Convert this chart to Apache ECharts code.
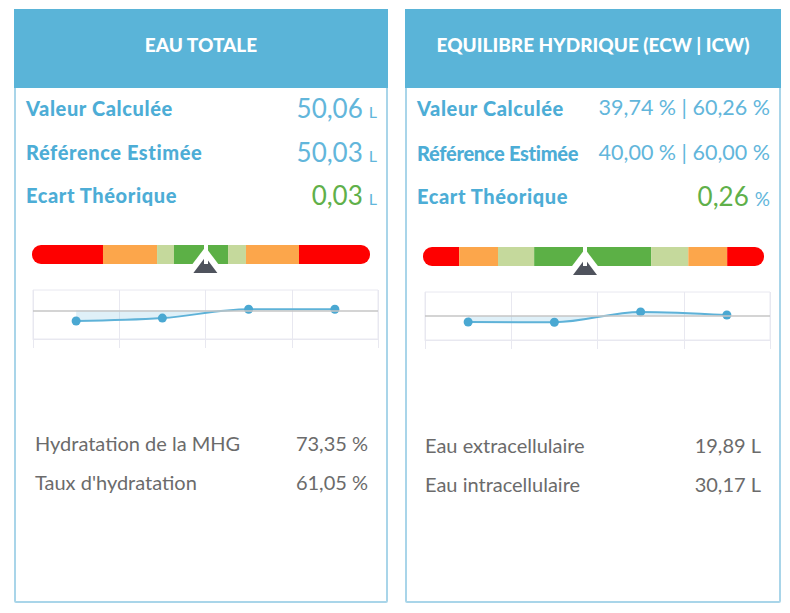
<!DOCTYPE html>
<html>
<head>
<meta charset="utf-8">
<script src="https://cdn.jsdelivr.net/npm/echarts@6/dist/echarts.min.js"></script>
<style>
  body { margin: 0; background: #fff; font-family: Lato, 'Open Sans', sans-serif; }
  .panel { position: absolute; box-sizing: border-box; border: 2px solid #a9d5e9; border-radius: 2px; }
  .head { position: absolute; background: #5ab4d8; color: #fff; font-weight: 900; font-size: 19px; text-align: center; }
  .row { position: absolute; height: 30px; display: flex; justify-content: space-between; align-items: center; white-space: nowrap; }
  .lab { color: #4dadd6; font-weight: 900; font-size: 20px; letter-spacing: 0.6px; }
  .val { color: #62b6db; line-height: 1; }
  .num { font-size: 26px; }
  .unit { font-size: 16px; margin-left: 6px; }
  .green { color: #5fb04a; }
  .info { color: #6b6b6b; font-size: 20px; }
  .chart { position: absolute; }
</style>
</head>
<body>
<div class="panel" style="left:14px;top:9px;width:374px;height:594px"></div>
<div class="head" style="left:14px;top:9px;width:374px;height:79px;line-height:72px">EAU TOTALE</div>
<div class="row" style="left:26px;top:93px;width:351px"><span class="lab">Valeur Calculée</span><span class="val"><span class="num">50,06</span><span class="unit">L</span></span></div>
<div class="row" style="left:26px;top:137px;width:351px"><span class="lab">Référence Estimée</span><span class="val"><span class="num">50,03</span><span class="unit">L</span></span></div>
<div class="row" style="left:26px;top:180px;width:351px"><span class="lab">Ecart Théorique</span><span class="val"><span class="num green">0,03</span><span class="unit">L</span></span></div>
<div id="chartTotal" class="chart" style="left:14px;top:235px;width:374px;height:125px"></div>
<div class="row info" style="left:35px;top:428px;width:333px"><span>Hydratation de la MHG</span><span>73,35 %</span></div>
<div class="row info" style="left:35px;top:467px;width:333px"><span>Taux d'hydratation</span><span>61,05 %</span></div>

<div class="panel" style="left:405px;top:9px;width:376px;height:594px"></div>
<div class="head" style="left:405px;top:9px;width:376px;height:79px;line-height:72px">EQUILIBRE HYDRIQUE (ECW | ICW)</div>
<div class="row" style="left:417px;top:93px;width:353px"><span class="lab">Valeur Calculée</span><span class="val" style="font-size:21.5px">39,74 % | 60,26 %</span></div>
<div class="row" style="left:417px;top:138px;width:353px"><span class="lab" style="letter-spacing:-0.3px">Référence Estimée</span><span class="val" style="font-size:21.5px">40,00 % | 60,00 %</span></div>
<div class="row" style="left:417px;top:181px;width:353px"><span class="lab">Ecart Théorique</span><span class="val"><span class="num green">0,26</span><span class="unit" style="font-size:19px">%</span></span></div>
<div id="chartBalance" class="chart" style="left:405px;top:235px;width:376px;height:125px"></div>
<div class="row info" style="left:425px;top:430px;width:336px"><span>Eau extracellulaire</span><span>19,89 L</span></div>
<div class="row info" style="left:425px;top:469px;width:336px"><span>Eau intracellulaire</span><span>30,17 L</span></div>

<script>
// gauge zones, left to right, in % of bar width
const zoneColors = ['#fe0000', '#fca64b', '#c5d99c', '#5cb046', '#c5d99c', '#fca64b', '#fe0000']
const totalZones = [21.0, 16.0, 5.0, 16.0, 5.3, 15.7, 21.0]
const totalPointer = 51.3
const balanceZones = [10.6, 11.4, 10.6, 34.3, 10.9, 11.4, 10.8]
const balancePointer = 47.5

// history of the last measures
const historyLabels = ['1', '2', '3', '4']
const totalHistory = [49.70, 49.79, 50.06, 50.06]
const totalRef = 50.03
const balanceHistory = [59.75, 59.74, 60.17, 60.04]
const balanceRef = 60.00

const gridColor = '#e8e8f0'

function getPanelOption(zones, pointer, history, ref, yMin, yMax, box) {
  const bars = zones.map((w, i) => ({
    type: 'bar',
    stack: 'zones',
    xAxisIndex: 0,
    yAxisIndex: 0,
    data: [w],
    barWidth: '100%',
    silent: true,
    itemStyle: {
      color: zoneColors[i],
      borderRadius: i === 0 ? [9, 0, 0, 9] : (i === zones.length - 1 ? [0, 9, 9, 0] : 0)
    }
  }))

  return {
    animation: false,
    grid: [
      { left: box.gauge[0], top: box.gauge[1], width: box.gauge[2], height: box.gauge[3] },
      { left: box.line[0], top: box.line[1], width: box.line[2], height: box.line[3],
        show: true, borderColor: gridColor, borderWidth: 1 }
    ],
    xAxis: [
      { gridIndex: 0, type: 'value', min: 0, max: 100, show: false },
      {
        gridIndex: 1,
        type: 'category',
        data: historyLabels,
        boundaryGap: true,
        axisLine: { show: true, lineStyle: { color: gridColor } },
        axisTick: { show: true, length: 9, lineStyle: { color: gridColor } },
        axisLabel: { show: false },
        splitLine: { show: true, lineStyle: { color: gridColor } }
      }
    ],
    yAxis: [
      { gridIndex: 0, type: 'category', data: ['zone'], show: false },
      {
        gridIndex: 1,
        type: 'value',
        min: yMin,
        max: yMax,
        axisLine: { show: false },
        axisTick: { show: false },
        axisLabel: { show: false },
        splitLine: { show: false }
      }
    ],
    series: [
      ...bars,
      {
        type: 'scatter',
        xAxisIndex: 0,
        yAxisIndex: 0,
        clip: false,
        silent: true,
        data: [[pointer, 0]],
        symbol: 'triangle',
        symbolSize: [44, 29],
        symbolOffset: [0, 7],
        itemStyle: { color: '#ffffff', opacity: 1 },
        markLine: {
          silent: true,
          symbol: ['none', 'none'],
          label: { show: false },
          lineStyle: { color: '#ffffff', width: 4, type: 'solid' },
          data: [{ xAxis: pointer }]
        }
      },
      {
        type: 'scatter',
        xAxisIndex: 0,
        yAxisIndex: 0,
        clip: false,
        silent: true,
        data: [[pointer, 0]],
        symbol: 'triangle',
        symbolSize: [24, 16],
        symbolOffset: [0, 10.5],
        itemStyle: { color: '#4f535d', opacity: 1 }
      },
      {
        type: 'line',
        xAxisIndex: 1,
        yAxisIndex: 1,
        data: history,
        smooth: 0.35,
        symbol: 'circle',
        symbolSize: 9,
        lineStyle: { width: 2, color: '#5eb2d8' },
        itemStyle: { color: '#4aa8d2' },
        areaStyle: { origin: ref, color: 'rgba(125,195,228,0.35)' },
        markLine: {
          silent: true,
          symbol: ['none', 'none'],
          label: { show: false },
          lineStyle: { color: '#c6c6c6', width: 1.5, type: 'solid' },
          data: [{ yAxis: ref }]
        }
      }
    ]
  }
}

const totalChart = echarts.init(document.getElementById('chartTotal'))
totalChart.setOption(getPanelOption(totalZones, totalPointer, totalHistory, totalRef, 49.15, 50.65,
  { gauge: [18, 10, 338, 19], line: [19, 55, 345, 49] }))

const balanceChart = echarts.init(document.getElementById('chartBalance'))
balanceChart.setOption(getPanelOption(balanceZones, balancePointer, balanceHistory, balanceRef, 59.0, 61.0,
  { gauge: [18, 12, 341, 19], line: [20, 57, 345, 48] }))
</script>
</body>
</html>
